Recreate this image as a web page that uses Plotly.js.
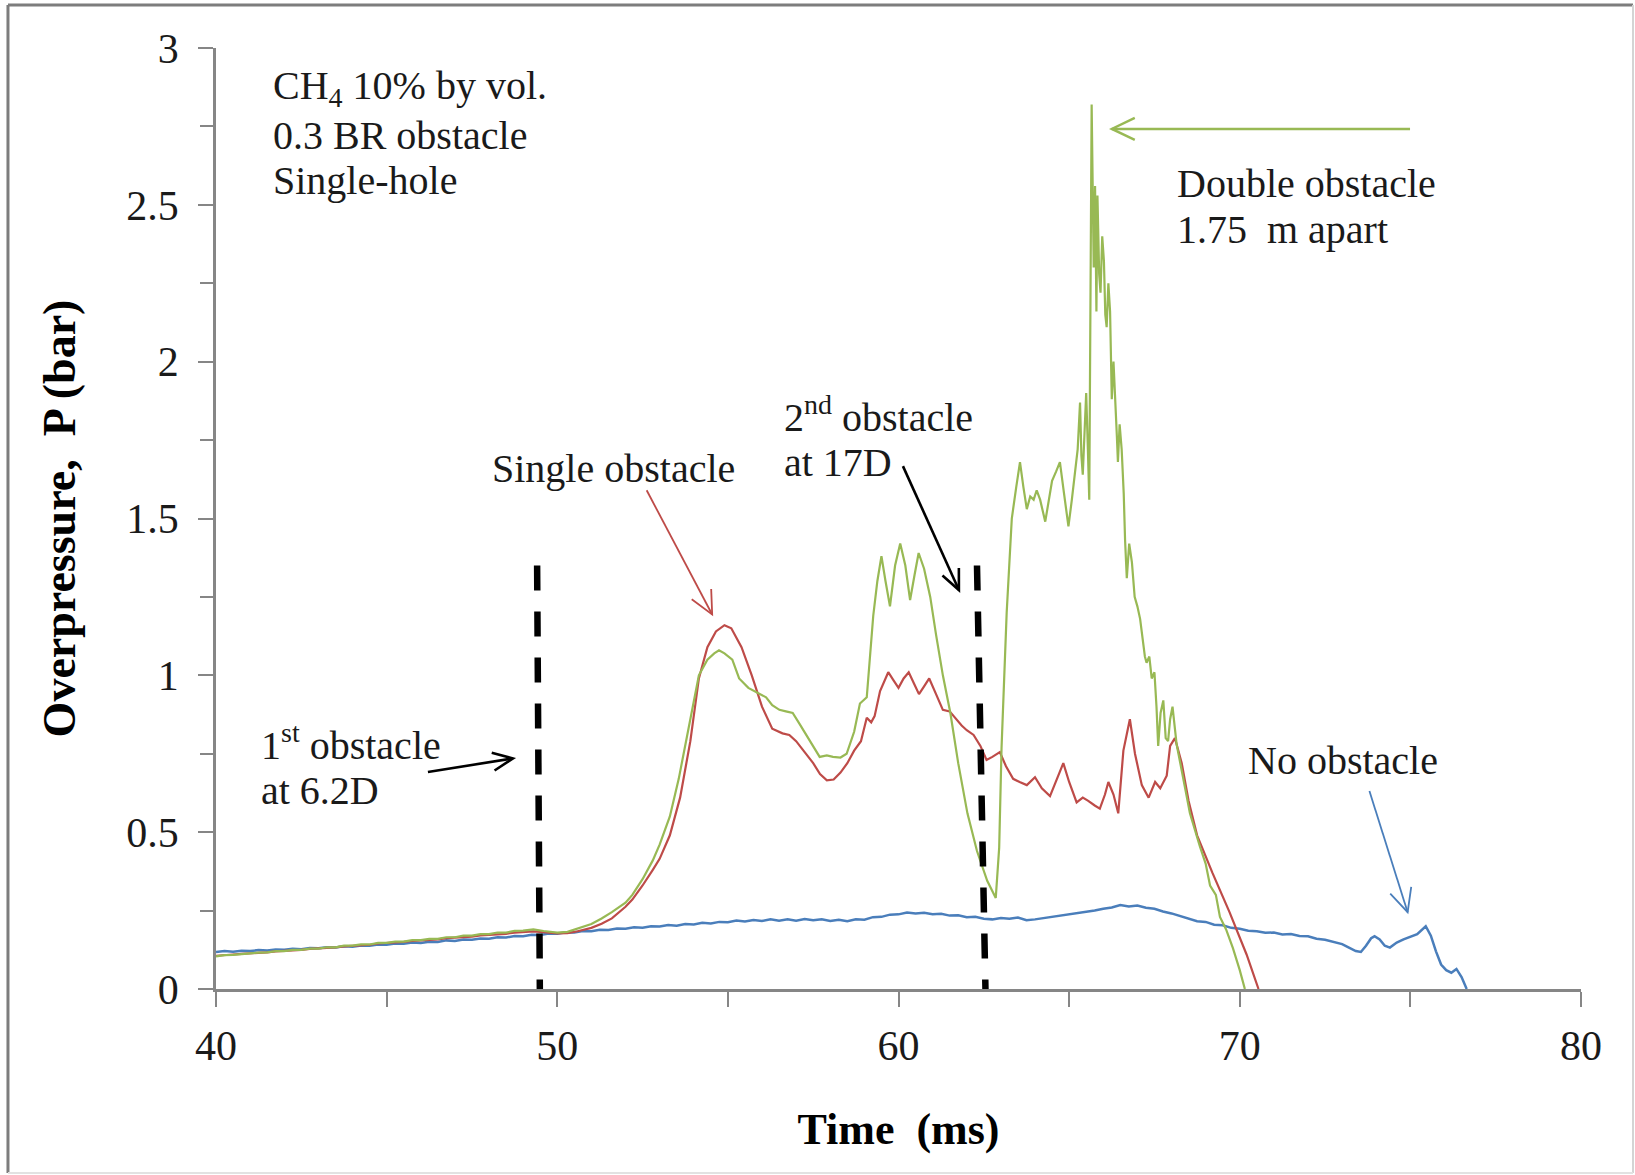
<!DOCTYPE html>
<html>
<head>
<meta charset="utf-8">
<script src="https://cdn.plot.ly/plotly-3.0.1.min.js"></script>
<style>
  html, body { margin: 0; padding: 0; background: #fff; }
  #chart { width: 1635px; height: 1175px; }
</style>
</head>
<body>
<div id="chart"></div>
<script>
// ---------- Data ----------
// No obstacle (blue)
const noObstacleTime = [40.0,40.25,40.5,40.75,41.0,41.25,41.5,41.75,42.0,42.25,42.5,42.75,43.0,43.25,43.5,43.75,44.0,44.25,44.5,44.75,45.0,45.25,45.5,45.75,46.0,46.25,46.5,46.75,47.0,47.25,47.5,47.75,48.0,48.25,48.5,48.75,49.0,49.25,49.5,49.75,50.0,50.25,50.5,50.75,51.0,51.25,51.5,51.75,52.0,52.25,52.5,52.75,53.0,53.25,53.5,53.75,54.0,54.25,54.5,54.75,55.0,55.25,55.5,55.75,56.0,56.25,56.5,56.75,57.0,57.25,57.5,57.75,58.0,58.25,58.5,58.75,59.0,59.25,59.5,59.75,60.0,60.25,60.5,60.75,61.0,61.25,61.5,61.75,62.0,62.25,62.5,62.75,63.0,63.25,63.5,63.75,64.0,64.25,64.5,64.75,65.0,65.25,65.5,65.75,66.0,66.25,66.5,66.75,67.0,67.25,67.5,67.75,68.0,68.25,68.5,68.75,69.0,69.25,69.5,69.75,70.0,70.25,70.5,70.75,71.0,71.25,71.5,71.75,72.0,72.25,72.5,72.75,73.0,73.2,73.4,73.55,73.7,73.85,73.95,74.1,74.25,74.4,74.6,74.8,75.0,75.2,75.45,75.6,75.75,75.9,76.05,76.2,76.35,76.5,76.65];
const noObstacleP = [0.118,0.121,0.119,0.122,0.121,0.124,0.123,0.126,0.125,0.128,0.127,0.131,0.130,0.133,0.132,0.136,0.135,0.139,0.138,0.142,0.141,0.145,0.144,0.148,0.147,0.151,0.150,0.155,0.153,0.158,0.157,0.161,0.160,0.165,0.164,0.169,0.168,0.173,0.172,0.177,0.176,0.181,0.180,0.185,0.184,0.189,0.188,0.193,0.192,0.197,0.195,0.200,0.199,0.204,0.202,0.207,0.206,0.211,0.209,0.214,0.213,0.218,0.215,0.220,0.217,0.222,0.218,0.222,0.218,0.223,0.219,0.222,0.217,0.221,0.216,0.222,0.221,0.229,0.230,0.237,0.238,0.244,0.241,0.243,0.238,0.240,0.234,0.235,0.229,0.230,0.224,0.222,0.226,0.224,0.228,0.219,0.222,0.226,0.230,0.234,0.238,0.241,0.247,0.250,0.256,0.260,0.268,0.263,0.266,0.259,0.256,0.247,0.241,0.232,0.224,0.216,0.214,0.205,0.203,0.195,0.192,0.186,0.184,0.179,0.180,0.174,0.175,0.169,0.168,0.160,0.157,0.149,0.143,0.132,0.121,0.118,0.138,0.162,0.168,0.158,0.138,0.132,0.148,0.158,0.166,0.175,0.200,0.170,0.120,0.078,0.060,0.052,0.064,0.038,0.0];

// Single obstacle (red)
const singleObstacleTime = [40.0,40.25,40.5,40.75,41.0,41.25,41.5,41.75,42.0,42.25,42.5,42.75,43.0,43.25,43.5,43.75,44.0,44.25,44.5,44.75,45.0,45.25,45.5,45.75,46.0,46.25,46.5,46.75,47.0,47.25,47.5,47.75,48.0,48.25,48.5,48.75,49.0,49.3,49.6,50.0,50.3,50.6,51.0,51.3,51.6,52.0,52.2,52.5,52.8,53.0,53.3,53.6,53.9,54.15,54.4,54.65,54.9,55.1,55.4,55.7,56.0,56.3,56.6,56.8,57.0,57.3,57.5,57.7,57.9,58.1,58.3,58.5,58.7,58.9,59.07,59.2,59.3,59.46,59.7,59.85,60.0,60.15,60.3,60.45,60.6,60.75,60.9,61.1,61.3,61.5,61.7,61.85,62.0,62.2,62.4,62.58,62.75,62.97,63.15,63.36,63.55,63.76,64.0,64.2,64.44,64.65,64.83,65.0,65.22,65.4,65.56,65.75,65.9,66.05,66.15,66.3,66.44,66.59,66.78,66.93,67.13,67.33,67.52,67.67,67.86,67.96,68.1,68.3,68.5,68.75,69.2,69.7,70.2,70.55];
const singleObstacleP = [0.106,0.109,0.110,0.112,0.113,0.116,0.117,0.120,0.121,0.123,0.125,0.128,0.129,0.131,0.133,0.136,0.137,0.140,0.141,0.145,0.146,0.149,0.150,0.153,0.154,0.157,0.158,0.162,0.163,0.166,0.167,0.171,0.172,0.175,0.176,0.180,0.181,0.184,0.181,0.177,0.178,0.184,0.195,0.208,0.225,0.262,0.285,0.330,0.380,0.415,0.490,0.610,0.790,0.990,1.090,1.140,1.160,1.150,1.090,1.000,0.900,0.830,0.815,0.810,0.790,0.750,0.720,0.685,0.665,0.668,0.690,0.720,0.760,0.790,0.865,0.850,0.870,0.950,1.010,0.985,0.960,0.990,1.010,0.975,0.940,0.965,0.990,0.940,0.890,0.885,0.860,0.840,0.825,0.810,0.775,0.730,0.740,0.755,0.710,0.670,0.660,0.650,0.675,0.640,0.615,0.670,0.720,0.660,0.595,0.610,0.600,0.585,0.575,0.620,0.660,0.620,0.560,0.760,0.860,0.750,0.650,0.610,0.660,0.640,0.680,0.775,0.800,0.720,0.600,0.490,0.370,0.245,0.110,0.0];

// Double obstacle 1.75 m apart (green)
const doubleObstacleTime = [40.0,40.25,40.5,40.75,41.0,41.25,41.5,41.75,42.0,42.25,42.5,42.75,43.0,43.25,43.5,43.75,44.0,44.25,44.5,44.75,45.0,45.25,45.5,45.75,46.0,46.25,46.5,46.75,47.0,47.25,47.5,47.75,48.0,48.25,48.5,48.75,49.0,49.3,49.6,50.0,50.3,50.6,51.0,51.3,51.6,52.0,52.2,52.5,52.8,53.0,53.3,53.56,53.85,54.15,54.4,54.6,54.74,54.9,55.13,55.33,55.6,55.92,56.12,56.3,56.51,56.7,56.9,57.1,57.3,57.5,57.69,57.9,58.08,58.3,58.48,58.7,58.87,59.07,59.16,59.26,59.38,59.5,59.62,59.75,59.9,60.05,60.2,60.34,60.47,60.59,60.75,60.93,61.1,61.3,61.52,61.75,62.02,62.3,62.6,62.85,62.95,63.02,63.17,63.32,63.45,63.56,63.66,63.76,63.86,63.96,64.05,64.15,64.3,64.4,64.5,64.62,64.73,64.85,64.98,65.08,65.17,65.25,65.32,65.36,65.4,65.45,65.5,65.55,65.59,65.66,65.72,65.76,65.8,65.83,65.88,65.92,65.97,66.02,66.06,66.1,66.15,66.2,66.25,66.3,66.35,66.4,66.43,66.48,66.54,66.6,66.64,66.69,66.76,66.84,66.92,67.0,67.08,67.16,67.22,67.27,67.35,67.42,67.5,67.56,67.61,67.68,67.76,67.83,67.9,67.96,68.03,68.15,68.25,68.4,68.54,68.7,68.83,69.0,69.13,69.3,69.42,69.6,69.8,70.0,70.15];
const doubleObstacleP = [0.104,0.108,0.109,0.112,0.113,0.116,0.117,0.121,0.121,0.125,0.125,0.129,0.129,0.133,0.133,0.138,0.138,0.142,0.142,0.147,0.147,0.151,0.151,0.156,0.156,0.160,0.160,0.165,0.165,0.170,0.170,0.175,0.175,0.180,0.180,0.185,0.186,0.190,0.185,0.180,0.182,0.192,0.207,0.225,0.245,0.275,0.300,0.350,0.410,0.460,0.550,0.670,0.830,1.000,1.050,1.070,1.080,1.070,1.050,0.990,0.960,0.940,0.930,0.905,0.890,0.885,0.880,0.845,0.810,0.775,0.740,0.745,0.740,0.738,0.750,0.820,0.910,0.930,1.050,1.190,1.300,1.380,1.300,1.220,1.350,1.420,1.350,1.240,1.320,1.390,1.340,1.250,1.130,1.000,0.880,0.720,0.560,0.440,0.345,0.290,0.450,0.770,1.200,1.500,1.600,1.680,1.600,1.530,1.570,1.560,1.590,1.560,1.490,1.560,1.620,1.650,1.680,1.580,1.475,1.560,1.650,1.720,1.870,1.700,1.640,1.800,1.900,1.720,1.560,2.820,2.300,2.560,2.160,2.530,2.280,2.220,2.400,2.320,2.150,2.110,2.250,2.160,1.880,2.000,1.850,1.760,1.680,1.800,1.720,1.580,1.430,1.310,1.420,1.360,1.250,1.220,1.180,1.120,1.060,1.040,1.060,0.990,1.010,0.900,0.775,0.880,0.920,0.800,0.790,0.860,0.900,0.780,0.720,0.640,0.560,0.500,0.455,0.400,0.330,0.300,0.230,0.190,0.130,0.060,0.0];

// Obstacle positions (dashed markers)
const obstacle1Time = [49.41, 49.49];
const obstacle2Time = [62.30, 62.55];
const obstacleMarkP = [1.35, -0.01];

// Axis ticks
const xTicks = [40, 50, 60, 70, 80];
const yTicks = [0, 0.5, 1, 1.5, 2, 2.5, 3];
const yTickLabels = ['0', '0.5', '1', '1.5', '2', '2.5', '3'];

// ---------- Styles / layout constants ----------
const FONT = 'Liberation Serif, Times New Roman, serif';
const BLUE = '#4a7ebb', RED = '#be4b48', GREEN = '#98b954';
const AXIS = '#868686';
const W = 1635, H = 1175;
const M = {l: 216, r: 54, t: 48, b: 186};
const X_RANGE = [40, 80], Y_RANGE = [0, 3];
const pxPerX = (W - M.l - M.r) / (X_RANGE[1] - X_RANGE[0]);
const pxPerY = (H - M.t - M.b) / (Y_RANGE[1] - Y_RANGE[0]);

const traces = [
  {x: noObstacleTime, y: noObstacleP, mode: 'lines', name: 'No obstacle',
   line: {color: BLUE, width: 2.5}},
  {x: singleObstacleTime, y: singleObstacleP, mode: 'lines', name: 'Single obstacle',
   line: {color: RED, width: 2.2}},
  {x: doubleObstacleTime, y: doubleObstacleP, mode: 'lines', name: 'Double obstacle',
   line: {color: GREEN, width: 2.2}},
  {x: obstacle1Time, y: obstacleMarkP, mode: 'lines', name: '1st obstacle', cliponaxis: false,
   line: {color: '#000', width: 6.5, dash: '25px,21px'}},
  {x: obstacle2Time, y: obstacleMarkP, mode: 'lines', name: '2nd obstacle', cliponaxis: false,
   line: {color: '#000', width: 6.5, dash: '25px,21px'}}
];

function label(text, x, y) {
  return {x: x, y: y, xref: 'x', yref: 'y', text: text, showarrow: false,
          xanchor: 'left', yanchor: 'middle',
          font: {family: FONT, size: 40, color: '#1a1a1a'}};
}

const annotations = [
  label('CH<sub>4</sub> 10% by vol.', 41.61, 2.872),
  label('0.3 BR obstacle', 41.61, 2.722),
  label('Single-hole', 41.61, 2.576),
  label('Double obstacle', 68.10, 2.568),
  label('1.75\u00a0 m apart', 68.10, 2.421),
  label('2<sup>nd</sup> obstacle', 56.59, 1.830),
  label('at 17D', 56.59, 1.680),
  label('Single obstacle', 48.03, 1.658),
  label('1<sup>st</sup> obstacle', 41.25, 0.786),
  label('at 6.2D', 41.25, 0.633),
  label('No obstacle', 70.18, 0.730)
];

// Callout arrows: a shaft in data coordinates plus an open chevron head sized in pixels
function arrowShapes(tail, head, color, width, L, Hw) {
  const dx = (head[0] - tail[0]) * pxPerX, dy = (head[1] - tail[1]) * pxPerY;
  const len = Math.hypot(dx, dy), ux = dx / len, uy = dy / len;
  const nx = -uy, ny = ux;
  const a1 = [-ux * L + nx * Hw, -uy * L + ny * Hw];
  const a2 = [-ux * L - nx * Hw, -uy * L - ny * Hw];
  return [
    {type: 'line', xref: 'x', yref: 'y', x0: tail[0], y0: tail[1], x1: head[0], y1: head[1],
     line: {color: color, width: width}},
    {type: 'path', xref: 'x', yref: 'y', xsizemode: 'pixel', ysizemode: 'pixel',
     xanchor: head[0], yanchor: head[1],
     path: 'M' + a1[0].toFixed(2) + ',' + a1[1].toFixed(2) + ' L0,0 L' + a2[0].toFixed(2) + ',' + a2[1].toFixed(2),
     line: {color: color, width: width}, fillcolor: 'rgba(0,0,0,0)'}
  ];
}

const arrowDefs = [
  {tail: [46.21, 0.692], head: [48.70, 0.735], color: '#000', width: 2.6, L: 20, H: 9},
  {tail: [52.62, 1.590], head: [54.54, 1.194], color: RED, width: 1.8, L: 23, H: 11},
  {tail: [60.13, 1.667], head: [61.77, 1.272], color: '#000', width: 2.6, L: 20, H: 9},
  {tail: [74.99, 2.742], head: [66.25, 2.742], color: GREEN, width: 2.4, L: 23, H: 11},
  {tail: [73.80, 0.631], head: [74.92, 0.245], color: BLUE, width: 1.8, L: 23, H: 11}
];

// outer chart frame (paper coordinates extend into the margins)
const shapes = [
  {type: 'line', xref: 'paper', yref: 'paper', x0: -0.1524, x1: -0.1524, y0: 1.0457, y1: -0.1955,
   line: {color: '#7d7d7d', width: 3}},
  {type: 'line', xref: 'paper', yref: 'paper', x0: -0.1524, x1: 1.0381, y0: 1.0457, y1: 1.0457,
   line: {color: '#7d7d7d', width: 3}},
  {type: 'line', xref: 'paper', yref: 'paper', x0: 1.0381, x1: 1.0381, y0: 1.0457, y1: -0.1955,
   line: {color: '#d4d4d4', width: 2}},
  {type: 'line', xref: 'paper', yref: 'paper', x0: -0.1524, x1: 1.0381, y0: -0.1955, y1: -0.1955,
   line: {color: '#e2e2e2', width: 2}}
];
arrowDefs.forEach(function (a) {
  arrowShapes(a.tail, a.head, a.color, a.width, a.L, a.H).forEach(function (s) { shapes.push(s); });
});

const layout = {
  width: W, height: H,
  margin: {l: M.l, r: M.r, t: M.t, b: M.b, pad: 0},
  paper_bgcolor: '#ffffff', plot_bgcolor: '#ffffff',
  showlegend: false,
  font: {family: FONT, color: '#1a1a1a'},
  xaxis: {
    range: X_RANGE, tickmode: 'array', tickvals: xTicks, ticktext: xTicks.map(String),
    ticks: 'outside', ticklen: 15, tickwidth: 2, tickcolor: AXIS, ticklabelstandoff: 3,
    showline: true, linecolor: AXIS, linewidth: 2.5, showgrid: false, zeroline: false,
    tickfont: {family: FONT, size: 42, color: '#1a1a1a'},
    minor: {dtick: 5, tick0: 40, ticks: 'outside', ticklen: 15, tickwidth: 2, tickcolor: AXIS, showgrid: false},
    title: {text: 'Time\u00a0 (ms)', font: {family: FONT, size: 44, weight: 700, color: '#000'}, standoff: 46}
  },
  yaxis: {
    range: Y_RANGE, tickmode: 'array', tickvals: yTicks, ticktext: yTickLabels,
    ticks: 'outside', ticklen: 15, tickwidth: 2, tickcolor: AXIS, ticklabelstandoff: 11,
    showline: true, linecolor: AXIS, linewidth: 2.5, showgrid: false, zeroline: false,
    tickfont: {family: FONT, size: 42, color: '#1a1a1a'},
    minor: {dtick: 0.25, tick0: 0, ticks: 'outside', ticklen: 13, tickwidth: 2, tickcolor: AXIS, showgrid: false},
    title: {text: 'Overpressure,\u00a0 P (bar)', font: {family: FONT, size: 46, weight: 700, color: '#000'}, standoff: 37}
  },
  annotations: annotations,
  shapes: shapes
};

Plotly.newPlot('chart', traces, layout, {displayModeBar: false, responsive: false});
</script>
</body>
</html>
